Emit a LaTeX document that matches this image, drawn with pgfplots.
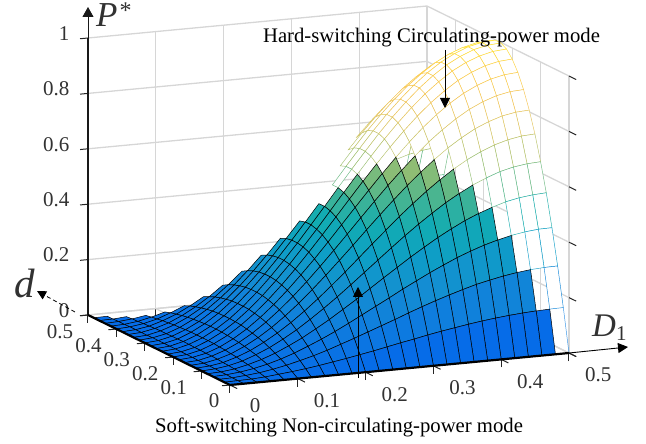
\documentclass[border=0pt]{standalone}
\usepackage{pgfplots}
\usepackage{pgfplotstable}
\usepackage{fontspec}
\setmainfont{Liberation Serif}
\pgfplotsset{compat=1.18}
\usetikzlibrary{arrows.meta}
\pgfplotstableread[row sep=\\]{
u v P\\
0 0 0\\0.02 0 0\\0.04 0 0\\0.06 0 0\\0.08 0 0\\0.10 0 0\\0.12 0 0\\0.14 0 0\\0.16 0 0\\0.18 0 0\\0.20 0 0\\0.22 0 0\\0.24 0 0\\0.26 0 0\\0.28 0 0\\0.30 0 0\\0.32 0 0\\0.34 0 0\\0.36 0 0\\0.38 0 0\\0.40 0 0\\0.42 0 0\\0.44 0 0\\0.46 0 0\\0.48 0 0\\0.50 0 0\\
0 0.02 0\\0.02 0.02 0.001\\0.04 0.02 0.002\\0.06 0.02 0.005\\0.08 0.02 0.010\\0.10 0.02 0.015\\0.12 0.02 0.021\\0.14 0.02 0.028\\0.16 0.02 0.036\\0.18 0.02 0.044\\0.20 0.02 0.053\\0.22 0.02 0.062\\0.24 0.02 0.072\\0.26 0.02 0.082\\0.28 0.02 0.091\\0.30 0.02 0.101\\0.32 0.02 0.110\\0.34 0.02 0.118\\0.36 0.02 0.126\\0.38 0.02 0.133\\0.40 0.02 0.139\\0.42 0.02 0.144\\0.44 0.02 0.148\\0.46 0.02 0.151\\0.48 0.02 0.153\\0.50 0.02 0.154\\
0 0.04 0\\0.02 0.04 0.001\\0.04 0.04 0.005\\0.06 0.04 0.010\\0.08 0.04 0.018\\0.10 0.04 0.028\\0.12 0.04 0.040\\0.14 0.04 0.053\\0.16 0.04 0.068\\0.18 0.04 0.085\\0.20 0.04 0.102\\0.22 0.04 0.120\\0.24 0.04 0.138\\0.26 0.04 0.156\\0.28 0.04 0.175\\0.30 0.04 0.193\\0.32 0.04 0.210\\0.34 0.04 0.226\\0.36 0.04 0.241\\0.38 0.04 0.255\\0.40 0.04 0.266\\0.42 0.04 0.276\\0.44 0.04 0.284\\0.46 0.04 0.290\\0.48 0.04 0.293\\0.50 0.04 0.294\\
0 0.06 0\\0.02 0.06 0.002\\0.04 0.06 0.007\\0.06 0.06 0.015\\0.08 0.06 0.026\\0.10 0.06 0.040\\0.12 0.06 0.057\\0.14 0.06 0.077\\0.16 0.06 0.098\\0.18 0.06 0.121\\0.20 0.06 0.146\\0.22 0.06 0.172\\0.24 0.06 0.198\\0.26 0.06 0.224\\0.28 0.06 0.251\\0.30 0.06 0.276\\0.32 0.06 0.301\\0.34 0.06 0.324\\0.36 0.06 0.346\\0.38 0.06 0.365\\0.40 0.06 0.382\\0.42 0.06 0.396\\0.44 0.06 0.408\\0.46 0.06 0.416\\0.48 0.06 0.421\\0.50 0.06 0.422\\
0 0.08 0\\0.02 0.08 0.002\\0.04 0.08 0.008\\0.06 0.08 0.019\\0.08 0.08 0.033\\0.10 0.08 0.051\\0.12 0.08 0.073\\0.14 0.08 0.097\\0.16 0.08 0.125\\0.18 0.08 0.154\\0.20 0.08 0.186\\0.22 0.08 0.218\\0.24 0.08 0.252\\0.26 0.08 0.286\\0.28 0.08 0.319\\0.30 0.08 0.352\\0.32 0.08 0.383\\0.34 0.08 0.413\\0.36 0.08 0.440\\0.38 0.08 0.465\\0.40 0.08 0.486\\0.42 0.08 0.504\\0.44 0.08 0.519\\0.46 0.08 0.529\\0.48 0.08 0.535\\0.50 0.08 0.538\\
0 0.10 0\\0.02 0.10 0.003\\0.04 0.10 0.010\\0.06 0.10 0.022\\0.08 0.10 0.040\\0.10 0.10 0.061\\0.12 0.10 0.087\\0.14 0.10 0.116\\0.16 0.10 0.149\\0.18 0.10 0.184\\0.20 0.10 0.221\\0.22 0.10 0.260\\0.24 0.10 0.300\\0.26 0.10 0.340\\0.28 0.10 0.380\\0.30 0.10 0.419\\0.32 0.10 0.456\\0.34 0.10 0.491\\0.36 0.10 0.524\\0.38 0.10 0.553\\0.40 0.10 0.579\\0.42 0.10 0.600\\0.44 0.10 0.618\\0.46 0.10 0.630\\0.48 0.10 0.637\\0.50 0.10 0.640\\
0 0.12 0\\0.02 0.12 0.003\\0.04 0.12 0.011\\0.06 0.12 0.026\\0.08 0.12 0.045\\0.10 0.12 0.070\\0.12 0.12 0.099\\0.14 0.12 0.132\\0.16 0.12 0.169\\0.18 0.12 0.209\\0.20 0.12 0.252\\0.22 0.12 0.296\\0.24 0.12 0.342\\0.26 0.12 0.388\\0.28 0.12 0.433\\0.30 0.12 0.478\\0.32 0.12 0.520\\0.34 0.12 0.560\\0.36 0.12 0.597\\0.38 0.12 0.631\\0.40 0.12 0.660\\0.42 0.12 0.684\\0.44 0.12 0.704\\0.46 0.12 0.718\\0.48 0.12 0.727\\0.50 0.12 0.730\\
0 0.14 0\\0.02 0.14 0.003\\0.04 0.14 0.013\\0.06 0.14 0.028\\0.08 0.14 0.050\\0.10 0.14 0.077\\0.12 0.14 0.109\\0.14 0.14 0.146\\0.16 0.14 0.187\\0.18 0.14 0.232\\0.20 0.14 0.279\\0.22 0.14 0.328\\0.24 0.14 0.378\\0.26 0.14 0.429\\0.28 0.14 0.479\\0.30 0.14 0.528\\0.32 0.14 0.575\\0.34 0.14 0.619\\0.36 0.14 0.660\\0.38 0.14 0.697\\0.40 0.14 0.729\\0.42 0.14 0.757\\0.44 0.14 0.778\\0.46 0.14 0.794\\0.48 0.14 0.803\\0.50 0.14 0.806\\
0 0.16 0\\0.02 0.16 0.003\\0.04 0.16 0.014\\0.06 0.16 0.031\\0.08 0.16 0.054\\0.10 0.16 0.083\\0.12 0.16 0.118\\0.14 0.16 0.158\\0.16 0.16 0.202\\0.18 0.16 0.250\\0.20 0.16 0.301\\0.22 0.16 0.354\\0.24 0.16 0.408\\0.26 0.16 0.463\\0.28 0.16 0.517\\0.30 0.16 0.570\\0.32 0.16 0.620\\0.34 0.16 0.668\\0.36 0.16 0.713\\0.38 0.16 0.752\\0.40 0.16 0.787\\0.42 0.16 0.817\\0.44 0.16 0.840\\0.46 0.16 0.857\\0.48 0.16 0.867\\0.50 0.16 0.870\\
0 0.18 0\\0.02 0.18 0.004\\0.04 0.18 0.014\\0.06 0.18 0.032\\0.08 0.18 0.057\\0.10 0.18 0.088\\0.12 0.18 0.125\\0.14 0.18 0.167\\0.16 0.18 0.214\\0.18 0.18 0.265\\0.20 0.18 0.318\\0.22 0.18 0.374\\0.24 0.18 0.432\\0.26 0.18 0.490\\0.28 0.18 0.547\\0.30 0.18 0.603\\0.32 0.18 0.657\\0.34 0.18 0.708\\0.36 0.18 0.755\\0.38 0.18 0.797\\0.40 0.18 0.834\\0.42 0.18 0.865\\0.44 0.18 0.889\\0.46 0.18 0.907\\0.48 0.18 0.918\\0.50 0.18 0.922\\
0 0.20 0\\0.02 0.20 0.004\\0.04 0.20 0.015\\0.06 0.20 0.034\\0.08 0.20 0.059\\0.10 0.20 0.092\\0.12 0.20 0.130\\0.14 0.20 0.174\\0.16 0.20 0.223\\0.18 0.20 0.276\\0.20 0.20 0.332\\0.22 0.20 0.390\\0.24 0.20 0.450\\0.26 0.20 0.510\\0.28 0.20 0.570\\0.30 0.20 0.628\\0.32 0.20 0.684\\0.34 0.20 0.737\\0.36 0.20 0.786\\0.38 0.20 0.830\\0.40 0.20 0.868\\0.42 0.20 0.901\\0.44 0.20 0.926\\0.46 0.20 0.945\\0.48 0.20 0.956\\0.50 0.20 0.960\\
0 0.22 0\\0.02 0.22 0.004\\0.04 0.22 0.015\\0.06 0.22 0.035\\0.08 0.22 0.061\\0.10 0.22 0.094\\0.12 0.22 0.134\\0.14 0.22 0.179\\0.16 0.22 0.229\\0.18 0.22 0.283\\0.20 0.22 0.341\\0.22 0.22 0.400\\0.24 0.22 0.462\\0.26 0.22 0.524\\0.28 0.22 0.585\\0.30 0.22 0.645\\0.32 0.22 0.703\\0.34 0.22 0.757\\0.36 0.22 0.807\\0.38 0.22 0.852\\0.40 0.22 0.891\\0.42 0.22 0.925\\0.44 0.22 0.951\\0.46 0.22 0.970\\0.48 0.22 0.982\\0.50 0.22 0.986\\
0 0.24 0\\0.02 0.24 0.004\\0.04 0.24 0.016\\0.06 0.24 0.035\\0.08 0.24 0.062\\0.10 0.24 0.095\\0.12 0.24 0.135\\0.14 0.24 0.181\\0.16 0.24 0.232\\0.18 0.24 0.287\\0.20 0.24 0.345\\0.22 0.24 0.406\\0.24 0.24 0.468\\0.26 0.24 0.531\\0.28 0.24 0.593\\0.30 0.24 0.653\\0.32 0.24 0.712\\0.34 0.24 0.767\\0.36 0.24 0.817\\0.38 0.24 0.863\\0.40 0.24 0.903\\0.42 0.24 0.937\\0.44 0.24 0.963\\0.46 0.24 0.983\\0.48 0.24 0.994\\0.50 0.24 0.998\\
0 0.26 0\\0.02 0.26 0.004\\0.04 0.26 0.016\\0.06 0.26 0.035\\0.08 0.26 0.062\\0.10 0.26 0.095\\0.12 0.26 0.135\\0.14 0.26 0.181\\0.16 0.26 0.232\\0.18 0.26 0.287\\0.20 0.26 0.345\\0.22 0.26 0.406\\0.24 0.26 0.468\\0.26 0.26 0.531\\0.28 0.26 0.593\\0.30 0.26 0.653\\0.32 0.26 0.712\\0.34 0.26 0.767\\0.36 0.26 0.817\\0.38 0.26 0.863\\0.40 0.26 0.903\\0.42 0.26 0.937\\0.44 0.26 0.963\\0.46 0.26 0.983\\0.48 0.26 0.994\\0.50 0.26 0.998\\
0 0.28 0\\0.02 0.28 0.004\\0.04 0.28 0.015\\0.06 0.28 0.035\\0.08 0.28 0.061\\0.10 0.28 0.094\\0.12 0.28 0.134\\0.14 0.28 0.179\\0.16 0.28 0.229\\0.18 0.28 0.283\\0.20 0.28 0.341\\0.22 0.28 0.400\\0.24 0.28 0.462\\0.26 0.28 0.524\\0.28 0.28 0.585\\0.30 0.28 0.645\\0.32 0.28 0.703\\0.34 0.28 0.757\\0.36 0.28 0.807\\0.38 0.28 0.852\\0.40 0.28 0.891\\0.42 0.28 0.925\\0.44 0.28 0.951\\0.46 0.28 0.970\\0.48 0.28 0.982\\0.50 0.28 0.986\\
0 0.30 0\\0.02 0.30 0.004\\0.04 0.30 0.015\\0.06 0.30 0.034\\0.08 0.30 0.059\\0.10 0.30 0.092\\0.12 0.30 0.130\\0.14 0.30 0.174\\0.16 0.30 0.223\\0.18 0.30 0.276\\0.20 0.30 0.332\\0.22 0.30 0.390\\0.24 0.30 0.450\\0.26 0.30 0.510\\0.28 0.30 0.570\\0.30 0.30 0.628\\0.32 0.30 0.684\\0.34 0.30 0.737\\0.36 0.30 0.786\\0.38 0.30 0.830\\0.40 0.30 0.868\\0.42 0.30 0.901\\0.44 0.30 0.926\\0.46 0.30 0.945\\0.48 0.30 0.956\\0.50 0.30 0.960\\
0 0.32 0\\0.02 0.32 0.004\\0.04 0.32 0.014\\0.06 0.32 0.032\\0.08 0.32 0.057\\0.10 0.32 0.088\\0.12 0.32 0.125\\0.14 0.32 0.167\\0.16 0.32 0.214\\0.18 0.32 0.265\\0.20 0.32 0.318\\0.22 0.32 0.374\\0.24 0.32 0.432\\0.26 0.32 0.490\\0.28 0.32 0.547\\0.30 0.32 0.603\\0.32 0.32 0.657\\0.34 0.32 0.708\\0.36 0.32 0.755\\0.38 0.32 0.797\\0.40 0.32 0.834\\0.42 0.32 0.865\\0.44 0.32 0.889\\0.46 0.32 0.907\\0.48 0.32 0.918\\0.50 0.32 0.922\\
0 0.34 0\\0.02 0.34 0.003\\0.04 0.34 0.014\\0.06 0.34 0.031\\0.08 0.34 0.054\\0.10 0.34 0.083\\0.12 0.34 0.118\\0.14 0.34 0.158\\0.16 0.34 0.202\\0.18 0.34 0.250\\0.20 0.34 0.301\\0.22 0.34 0.354\\0.24 0.34 0.408\\0.26 0.34 0.463\\0.28 0.34 0.517\\0.30 0.34 0.570\\0.32 0.34 0.620\\0.34 0.34 0.668\\0.36 0.34 0.713\\0.38 0.34 0.752\\0.40 0.34 0.787\\0.42 0.34 0.817\\0.44 0.34 0.840\\0.46 0.34 0.857\\0.48 0.34 0.867\\0.50 0.34 0.870\\
0 0.36 0\\0.02 0.36 0.003\\0.04 0.36 0.013\\0.06 0.36 0.028\\0.08 0.36 0.050\\0.10 0.36 0.077\\0.12 0.36 0.109\\0.14 0.36 0.146\\0.16 0.36 0.187\\0.18 0.36 0.232\\0.20 0.36 0.279\\0.22 0.36 0.328\\0.24 0.36 0.378\\0.26 0.36 0.429\\0.28 0.36 0.479\\0.30 0.36 0.528\\0.32 0.36 0.575\\0.34 0.36 0.619\\0.36 0.36 0.660\\0.38 0.36 0.697\\0.40 0.36 0.729\\0.42 0.36 0.757\\0.44 0.36 0.778\\0.46 0.36 0.794\\0.48 0.36 0.803\\0.50 0.36 0.806\\
0 0.38 0\\0.02 0.38 0.003\\0.04 0.38 0.011\\0.06 0.38 0.026\\0.08 0.38 0.045\\0.10 0.38 0.070\\0.12 0.38 0.099\\0.14 0.38 0.132\\0.16 0.38 0.169\\0.18 0.38 0.209\\0.20 0.38 0.252\\0.22 0.38 0.296\\0.24 0.38 0.342\\0.26 0.38 0.388\\0.28 0.38 0.433\\0.30 0.38 0.478\\0.32 0.38 0.520\\0.34 0.38 0.560\\0.36 0.38 0.597\\0.38 0.38 0.631\\0.40 0.38 0.660\\0.42 0.38 0.684\\0.44 0.38 0.704\\0.46 0.38 0.718\\0.48 0.38 0.727\\0.50 0.38 0.730\\
0 0.40 0\\0.02 0.40 0.003\\0.04 0.40 0.010\\0.06 0.40 0.022\\0.08 0.40 0.040\\0.10 0.40 0.061\\0.12 0.40 0.087\\0.14 0.40 0.116\\0.16 0.40 0.149\\0.18 0.40 0.184\\0.20 0.40 0.221\\0.22 0.40 0.260\\0.24 0.40 0.300\\0.26 0.40 0.340\\0.28 0.40 0.380\\0.30 0.40 0.419\\0.32 0.40 0.456\\0.34 0.40 0.491\\0.36 0.40 0.524\\0.38 0.40 0.553\\0.40 0.40 0.579\\0.42 0.40 0.600\\0.44 0.40 0.618\\0.46 0.40 0.630\\0.48 0.40 0.637\\0.50 0.40 0.640\\
0 0.42 0\\0.02 0.42 0.002\\0.04 0.42 0.008\\0.06 0.42 0.019\\0.08 0.42 0.033\\0.10 0.42 0.051\\0.12 0.42 0.073\\0.14 0.42 0.097\\0.16 0.42 0.125\\0.18 0.42 0.154\\0.20 0.42 0.186\\0.22 0.42 0.218\\0.24 0.42 0.252\\0.26 0.42 0.286\\0.28 0.42 0.319\\0.30 0.42 0.352\\0.32 0.42 0.383\\0.34 0.42 0.413\\0.36 0.42 0.440\\0.38 0.42 0.465\\0.40 0.42 0.486\\0.42 0.42 0.504\\0.44 0.42 0.519\\0.46 0.42 0.529\\0.48 0.42 0.535\\0.50 0.42 0.538\\
0 0.44 0\\0.02 0.44 0.002\\0.04 0.44 0.007\\0.06 0.44 0.015\\0.08 0.44 0.026\\0.10 0.44 0.040\\0.12 0.44 0.057\\0.14 0.44 0.077\\0.16 0.44 0.098\\0.18 0.44 0.121\\0.20 0.44 0.146\\0.22 0.44 0.172\\0.24 0.44 0.198\\0.26 0.44 0.224\\0.28 0.44 0.251\\0.30 0.44 0.276\\0.32 0.44 0.301\\0.34 0.44 0.324\\0.36 0.44 0.346\\0.38 0.44 0.365\\0.40 0.44 0.382\\0.42 0.44 0.396\\0.44 0.44 0.408\\0.46 0.44 0.416\\0.48 0.44 0.421\\0.50 0.44 0.422\\
0 0.46 0\\0.02 0.46 0.001\\0.04 0.46 0.005\\0.06 0.46 0.010\\0.08 0.46 0.018\\0.10 0.46 0.028\\0.12 0.46 0.040\\0.14 0.46 0.053\\0.16 0.46 0.068\\0.18 0.46 0.085\\0.20 0.46 0.102\\0.22 0.46 0.120\\0.24 0.46 0.138\\0.26 0.46 0.156\\0.28 0.46 0.175\\0.30 0.46 0.193\\0.32 0.46 0.210\\0.34 0.46 0.226\\0.36 0.46 0.241\\0.38 0.46 0.255\\0.40 0.46 0.266\\0.42 0.46 0.276\\0.44 0.46 0.284\\0.46 0.46 0.290\\0.48 0.46 0.293\\0.50 0.46 0.294\\
0 0.48 0\\0.02 0.48 0.001\\0.04 0.48 0.002\\0.06 0.48 0.005\\0.08 0.48 0.010\\0.10 0.48 0.015\\0.12 0.48 0.021\\0.14 0.48 0.028\\0.16 0.48 0.036\\0.18 0.48 0.044\\0.20 0.48 0.053\\0.22 0.48 0.062\\0.24 0.48 0.072\\0.26 0.48 0.082\\0.28 0.48 0.091\\0.30 0.48 0.101\\0.32 0.48 0.110\\0.34 0.48 0.118\\0.36 0.48 0.126\\0.38 0.48 0.133\\0.40 0.48 0.139\\0.42 0.48 0.144\\0.44 0.48 0.148\\0.46 0.48 0.151\\0.48 0.48 0.153\\0.50 0.48 0.154\\
0 0.50 0\\0.02 0.50 0\\0.04 0.50 0\\0.06 0.50 0\\0.08 0.50 0\\0.10 0.50 0\\0.12 0.50 0\\0.14 0.50 0\\0.16 0.50 0\\0.18 0.50 0\\0.20 0.50 0\\0.22 0.50 0\\0.24 0.50 0\\0.26 0.50 0\\0.28 0.50 0\\0.30 0.50 0\\0.32 0.50 0\\0.34 0.50 0\\0.36 0.50 0\\0.38 0.50 0\\0.40 0.50 0\\0.42 0.50 0\\0.44 0.50 0\\0.46 0.50 0\\0.48 0.50 0\\0.50 0.50 0\\
}\surfdata
\definecolor{axgray}{RGB}{50,50,50}
\newcommand{\lblfont}{\fontsize{21}{21}\selectfont}
\begin{document}
\begin{tikzpicture}[x=1pt,y=1pt]
\useasboundingbox (0,0) rectangle (646,444);
\begin{axis}[
  at={(230pt,59pt)}, anchor=origin,
  x={(678pt,64pt)}, y={(-284pt,140pt)}, z={(0pt,277pt)},
  xmin=0, xmax=0.5, ymin=0, ymax=0.5, zmin=0, zmax=1,
  xtick={0,0.1,0.2,0.3,0.4,0.5}, ytick={0,0.1,0.2,0.3,0.4,0.5},
  ztick={0,0.2,0.4,0.6,0.8,1},
  xticklabels={,0.1,0.2,0.3,0.4,0.5}, yticklabels={,0.1,0.2,0.3,0.4,0.5},
  grid=major, major grid style={black!16,line width=1.3pt},
  axis line style={draw=none},
  clip=false,
  tick pos=left,
  tick align=outside, major tick length=8pt,
  tick style={black!85,line width=1pt},
  /pgf/number format/assume math mode=true,
  /pgf/number format/fixed,
  tick label style={font=\lblfont,text=axgray},
  xticklabel style={anchor=center,xshift=22pt,yshift=-18.5pt},
  yticklabel style={anchor=center,xshift=-20pt,yshift=-16pt},
  zticklabel style={anchor=east,xshift=-8pt,yshift=1pt},
  colormap={surfmap}{rgb255=(6,108,232); rgb255=(15,125,222); rgb255=(20,142,210); rgb255=(14,158,198); rgb255=(18,172,178); rgb255=(80,182,140); rgb255=(165,192,108); rgb255=(220,198,100); rgb255=(245,195,80); rgb255=(253,205,65); rgb255=(255,230,40)},
  point meta min=0, point meta max=1,
]
\addplot3[surf, shader=flat corner, fill=white, draw=mapped color, line width=0.45pt,
  mesh/rows=26, mesh/cols=26, unbounded coords=jump, z buffer=sort, point meta=z]
  table[x=u,y=v,z expr={(\thisrow{u}+\thisrow{v}>0.499 && \thisrow{v}<\thisrow{u}+0.001) ? \thisrow{P} : nan}] {\surfdata};
\addplot3[line width=0.45pt, color={rgb,255:red,60;green,150;blue,230}, no markers]
  coordinates {(0.5,0,0) (0.5,0.02,0.154)};
\addplot3[surf, shader=flat corner, draw=black, line width=0.5pt,
  mesh/rows=26, mesh/cols=26, unbounded coords=jump, z buffer=sort, point meta=z]
  table[x=u,y=v,z expr={\thisrow{u}+\thisrow{v}<0.501 ? \thisrow{P} : nan}] {\surfdata};
\end{axis}
% main axes
\draw[black!90,line width=2.6pt] (88,129) -- (88,406);
\draw[black!90,line width=0.9pt,-{Triangle[length=10pt,width=11pt]}] (88,406) -- (88,437);
\draw[black,line width=2.2pt] (230,59) -- (569,91);
\draw[black,line width=0.9pt,-{Triangle[length=10pt,width=10pt]}] (569,91) -- (628,97);
\draw[black,line width=2.2pt] (230,59) -- (88,129);
\draw[black,line width=0.8pt,dash pattern=on 4pt off 3pt,-{Triangle[length=9pt,width=9pt]}] (75,132) -- (37,153);
% zero labels
\node[text=axgray,inner sep=0pt] at (255,38) {\lblfont 0};
\node[text=axgray,inner sep=0pt] at (214,43) {\lblfont 0};
% axis names
\node[text=axgray,anchor=base west,inner sep=0pt] at (96,417) {\fontsize{35}{35}\selectfont\textit{P}\kern2pt\raisebox{8pt}{\fontsize{24}{24}\selectfont *}};
\node[text=axgray,anchor=base west,inner sep=0pt] at (14,146) {\fontsize{41}{41}\selectfont\textit{d}};
\node[text=axgray,anchor=base west,inner sep=0pt] at (592,107) {\fontsize{33}{33}\selectfont\textit{D}\raisebox{-4pt}{\fontsize{21}{21}\selectfont 1}};
% annotations
\node[anchor=center,inner sep=0pt] at (431.5,406) {\fontsize{20.7}{20.7}\selectfont Hard-switching Circulating-power mode};
\node[anchor=center,inner sep=0pt] at (339,17) {\fontsize{20.7}{20.7}\selectfont Soft-switching Non-circulating-power mode};
\draw[black,line width=0.9pt,-{Triangle[length=10pt,width=10pt]}] (445,394) -- (445,336);
\draw[black,line width=0.9pt,-{Triangle[length=10pt,width=10pt]}] (358,66) -- (358,157);
\end{tikzpicture}
\end{document}
